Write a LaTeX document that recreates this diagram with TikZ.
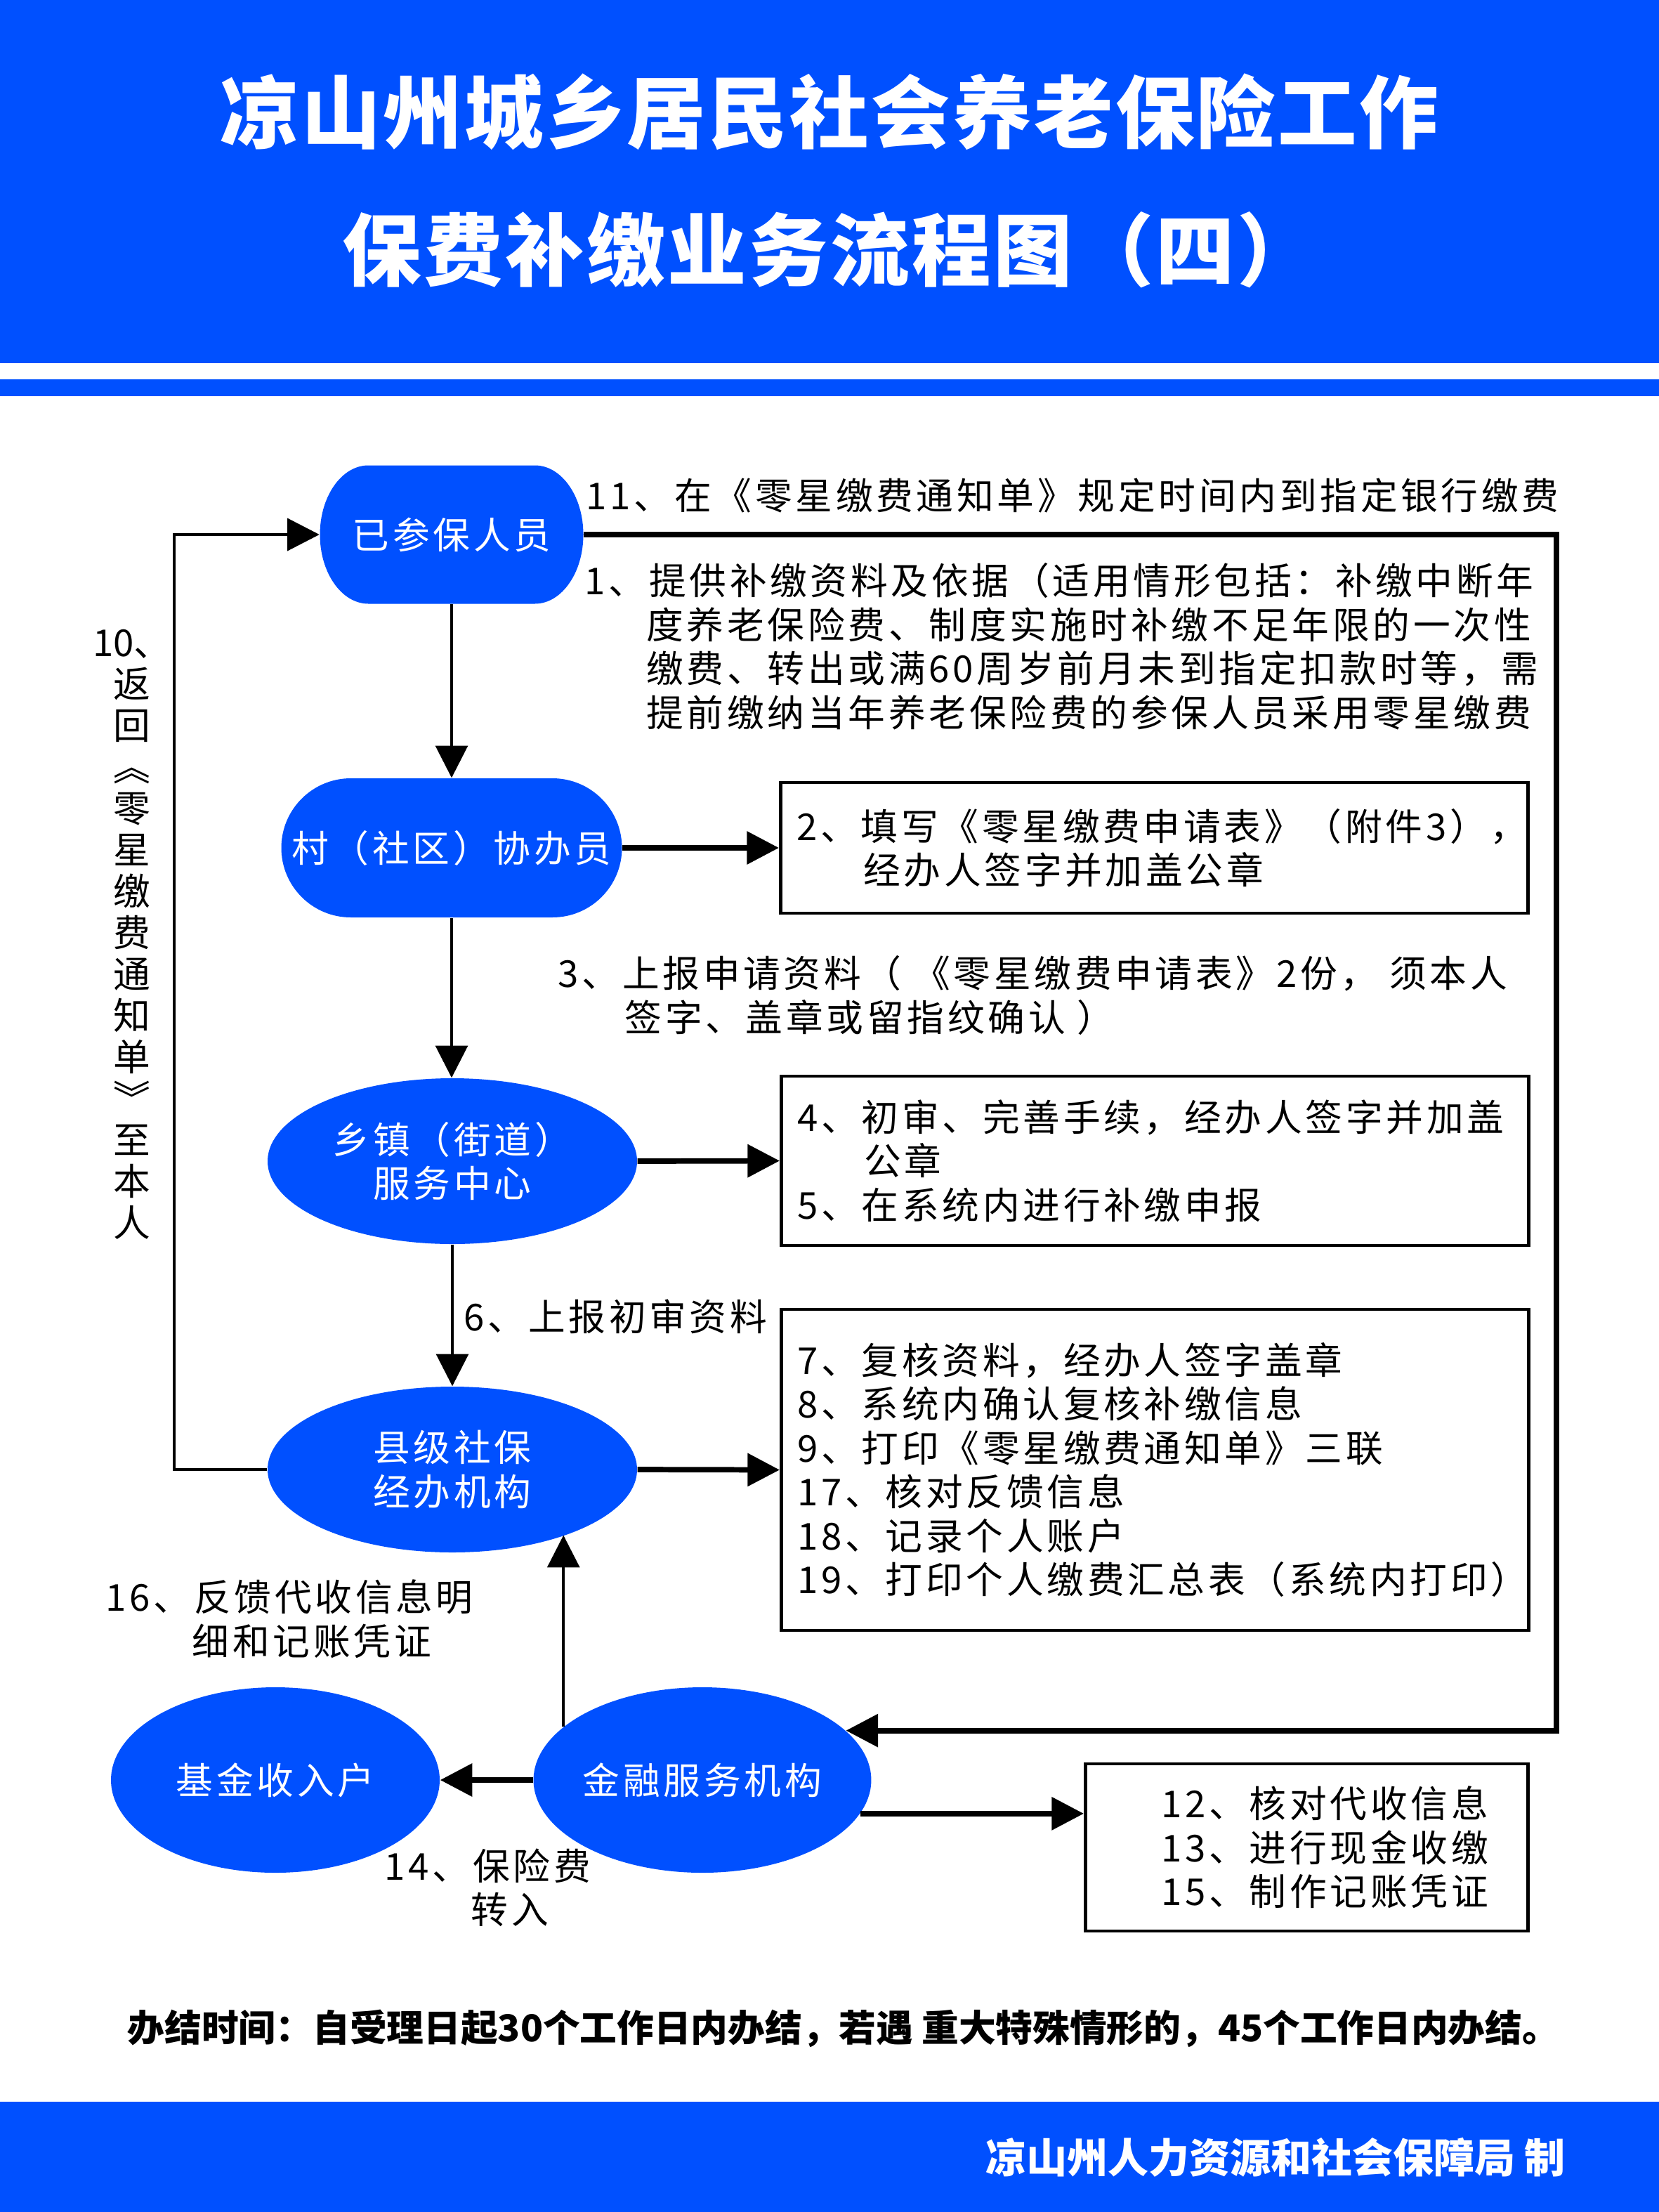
\documentclass[tikz,border=0pt]{standalone}
\usepackage{fontspec}
\usetikzlibrary{arrows.meta}
\usetikzlibrary{shapes.geometric}
\newfontfamily\hei{Noto Sans CJK SC}[LetterSpace=9]
\newfontfamily\heiplain{Noto Sans CJK SC}
\newfontfamily\titlehei{Noto Sans CJK SC}[LetterSpace=3]
\definecolor{bandblue}{RGB}{0,80,255}
\newcommand*{\bodyfont}{\hei\fontsize{15pt}{17.8pt}\selectfont}

\begin{document}
\begin{tikzpicture}[every node/.style = {inner sep = 0pt},
		flowtip/.style = {-{Triangle[length=13pt,width=13pt]}},
		thinline/.style = {flowtip, line width = 1.1pt},
		midline/.style = {flowtip, line width = 1.4pt},
		thickline/.style = {flowtip, line width = 2.2pt}]
		\tikzset{bluenode/.style = {text = white, font = \bodyfont, align = center},
			ovalnode/.style = {bluenode, ellipse, fill = bandblue},
			stadium/.style = {bluenode, fill = bandblue, rounded corners = 0.99cm,
				minimum width = 4.85cm, minimum height = 1.98cm},
			capsule/.style n args = {3}{bluenode, fill = white,
				minimum width = #1, minimum height = #2,
				path picture = {\fill[bandblue]
					([xshift=#3]path picture bounding box.north west)
					-- ([xshift=-#3]path picture bounding box.north east)
					arc[start angle=90, end angle=-90, x radius=#3, y radius=#2/2]
					-- ([xshift=#3]path picture bounding box.south west)
					arc[start angle=270, end angle=90, x radius=#3, y radius=#2/2]
					-- cycle;}},
			listbox/.style = {draw, line width = 1.3pt, font = \bodyfont,
				align = left, inner xsep = 0.23cm, text width = 10.18cm},
			labeltext/.style = {font = \bodyfont, align = left}}
		\useasboundingbox (0,0) rectangle (23.62,-31.49);
		\fill[bandblue] (0,0) rectangle (23.62,-5.17);
		\fill[bandblue] (0,-5.40) rectangle (23.62,-5.64);
		\fill[bandblue] (0,-29.92) rectangle (23.62,-31.49);
		\node[text = white, font = \titlehei\bfseries\fontsize{32pt}{36pt}\selectfont] (title1)
			at (11.81,-1.59) {凉山州城乡居民社会养老保险工作};
		\node[text = white, font = \titlehei\bfseries\fontsize{32pt}{36pt}\selectfont] (title2)
			at (11.81,-3.56) {保费补缴业务流程图（四）};
		% flow nodes
		\node[capsule = {3.75cm}{1.97cm}{0.69cm}] (canbao) at (6.43,-7.61) {已参保人员};
		\node[stadium] (xieban) at (6.43,-12.07) {村（社区）协办员};
		\node[ovalnode, minimum width = 5.26cm, minimum height = 2.36cm] (xiangzhen)
			at (6.44,-16.53) {乡镇（街道）\\服务中心};
		\node[ovalnode, minimum width = 5.26cm, minimum height = 2.36cm] (xianji)
			at (6.44,-20.92) {县级社保\\经办机构};
		\node[ovalnode, minimum width = 4.68cm, minimum height = 2.64cm] (jinrong)
			at (10.00,-25.34) {金融服务机构};
		\node[ovalnode, minimum width = 4.68cm, minimum height = 2.64cm] (jijin)
			at (3.92,-25.34) {基金收入户};
		% step boxes
		\node[listbox, anchor = west, minimum height = 1.86cm] (shenqing) at (11.09,-12.07)
			{\makebox[\linewidth][l]{2、填写《零星缴费申请表》（附件3），}\\
			\hspace*{27pt}经办人签字并加盖公章};
		\node[listbox, anchor = west, minimum height = 2.41cm] (chushen) at (11.10,-16.525)
			{4、初审、完善手续，经办人签字并加盖\\
			\hspace*{27pt}公章\\
			5、在系统内进行补缴申报};
		\node[listbox, anchor = west, minimum height = 4.57cm] (fuhe) at (11.10,-20.925)
			{7、复核资料，经办人签字盖章\\
			8、系统内确认复核补缴信息\\
			9、打印《零星缴费通知单》三联\\
			17、核对反馈信息\\
			18、记录个人账户\\
			19、打印个人缴费汇总表（系统内打印）};
		\node[listbox, anchor = west, inner xsep = 0pt, text width = 6.30cm,
			minimum height = 2.38cm] (daishou) at (15.43,-26.30)
			{\hspace*{1.08cm}12、核对代收信息\\
			\hspace*{1.08cm}13、进行现金收缴\\
			\hspace*{1.08cm}15、制作记账凭证};
		% labels
		\node[labeltext, anchor = west] (lab11) at (8.34,-7.05)
			{11、在《零星缴费通知单》规定时间内到指定银行缴费};
		\node[labeltext, anchor = north west] (lab1) at (8.32,-8.01)
			{1、提供补缴资料及依据（适用情形包括：补缴中断年\\
			\hspace*{25pt}度养老保险费、制度实施时补缴不足年限的一次性\\
			\hspace*{25pt}缴费、转出或满60周岁前月未到指定扣款时等，需\\
			\hspace*{25pt}提前缴纳当年养老保险费的参保人员采用零星缴费};
		\node[labeltext, anchor = north west] (lab3) at (7.94,-13.60)
			{3、上报申请资料（ 《零星缴费申请表》2份， 须本人\\
			\hspace*{27pt}签字、盖章或留指纹确认 ）};
		\node[labeltext, anchor = west] (lab6) at (6.60,-18.74) {6、上报初审资料};
		\node[labeltext, anchor = north west] (lab16) at (1.50,-22.48)
			{16、反馈代收信息明\\\hspace*{35pt}细和记账凭证};
		\node[labeltext, anchor = north west] (lab14) at (5.47,-26.31)
			{14、保险费\\\hspace*{35pt}转入};
		\node[font = \heiplain\fontsize{15pt}{16.8pt}\selectfont, align = center, anchor = north]
			(lab10) at (1.88,-8.95)
			{10、\\返\\回\\︽\\零\\星\\缴\\费\\通\\知\\单\\︾\\至\\本\\人};
		\node[anchor = west, font = \heiplain\bfseries\fontsize{15pt}{18pt}\selectfont] (deadline)
			at (1.81,-28.88)
			{办结时间：自受理日起30个工作日内办结，若遇 重大特殊情形的，45个工作日内办结。};
		\node[anchor = east, text = white, font = \heiplain\bfseries\fontsize{16.5pt}{20pt}\selectfont]
			(maker) at (22.29,-30.71) {凉山州人力资源和社会保障局 制};
		% connectors
		\coordinate (backL) at (2.48,-14);
		\coordinate (backR) at (22.16,-15);
		\draw[thinline] (canbao.south) -- (xieban.north);
		\draw[thinline] (xieban.south) -- (xieban.south |- xiangzhen.north);
		\draw[thinline] (xiangzhen.south) -- (xianji.north);
		\draw[thickline] (xieban.east) -- (shenqing.west);
		\draw[thickline] (xiangzhen.east) -- (chushen.west);
		\draw[thickline] (xianji.east) -- (fuhe.west);
		\draw[midline] (xianji.west) -| (backL) |- (canbao.west);
		\draw[thickline] (canbao.east) -| (backR) |- (jinrong.19);
		\draw[thinline] (jinrong.159) -- (jinrong.159 |- xianji.-30);
		\draw[thickline] (jinrong.west) -- (jijin.east);
		\draw[thickline] (jinrong.-12) -- (jinrong.-12 -| daishou.west);
\end{tikzpicture}
\end{document}
